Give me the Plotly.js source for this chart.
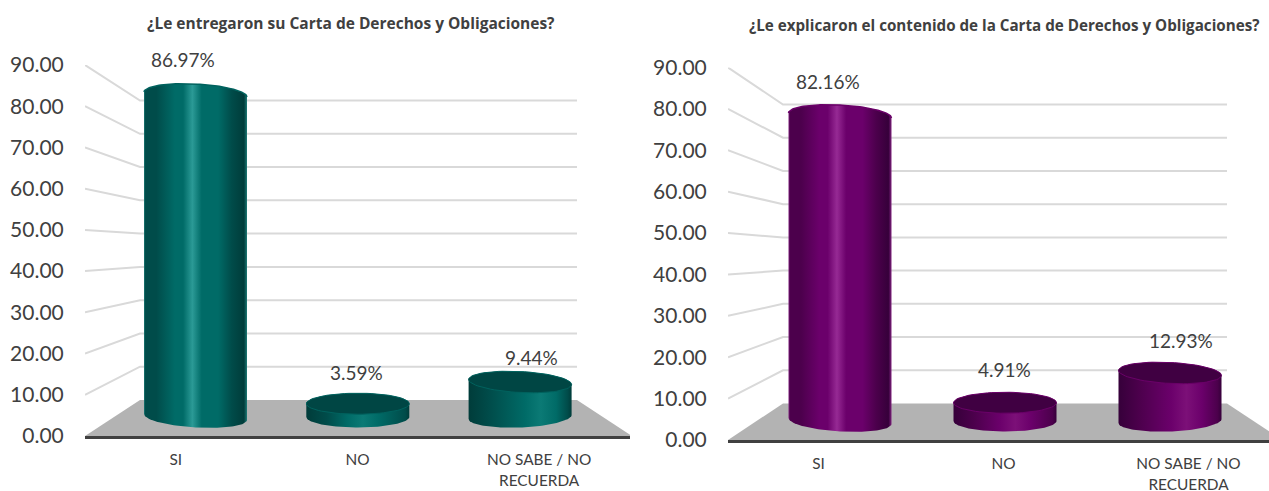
<!DOCTYPE html>
<html>
<head>
<meta charset="utf-8">
<script src="https://cdn.plot.ly/plotly-3.0.1.min.js"></script>
<style>html,body{margin:0;padding:0;background:#fff;overflow:hidden}</style>
</head>
<body>
<div id="chart" style="width:1269px;height:491px"></div>
<script>
// Survey answers, in percent
const categories = ['SI', 'NO', 'NO SABE / NO<br>RECUERDA'];
const deliveredValues = [86.97, 3.59, 9.44];
const explainedValues = [82.16, 4.91, 12.93];
const tickValues = [0, 10, 20, 30, 40, 50, 60, 70, 80, 90];
const deliveredTitle = '¿Le entregaron su Carta de Derechos y Obligaciones?';
const explainedTitle = '¿Le explicaron el contenido de la Carta de Derechos y Obligaciones?';

const W = 1269, H = 491;
const TEXT = '#404040';
const FONT = 'Lato, "Open Sans", sans-serif';
const TITLE_FONT = '"Open Sans", Lato, sans-serif';

const teal = {base:'#006b67', hi:'#2b9a96', hiShort:'#0b7a75', mid:'#004c4a', shadow:'#003c3a', lit:'#1d7a76', cap:'#004644', rim:'#00625e'};
const purple = {base:'#6b006b', hi:'#962a94', hiShort:'#7c1078', mid:'#4c004c', shadow:'#36003a', lit:'#7d1f7c', cap:'#400042', rim:'#6a0068'};

// Placement of each panel: front plane, back wall and the plane the cylinders stand on
const panels = [
  {suffix:'', over:3, values:deliveredValues, color:teal, title:deliveredTitle, titleX:145, titleY:23, titleSize:15.5,
   frontL:85, frontR:630, step:181.67, y0:436, y90:65, backL:140, backR:577, back0:400, back90:100.5,
   barC0:195.5, barStep:162.3, barW:103, bar0:417, barUnit:3.708, capB:10.5, xLabelShift:-0.5,
   tiltBottom:[3,0,-2], tiltTop:[-2.5,0,-2.5], highlight:[0.47,0.55,0.7],
   labelShift:[[-12.5,35.5],[-1,30.7],[11,25]]},
  {suffix:'2', over:4, values:explainedValues, color:purple, title:explainedTitle, titleX:747, titleY:25, titleSize:15.2,
   frontL:728, frontR:1269, step:185, y0:440, y90:67.5, backL:783, backR:1227, back0:403.5, back90:104.5,
   barC0:840, barStep:165, barW:103, bar0:421, barUnit:3.718, capB:10.5, xLabelShift:-2,
   tiltBottom:[3,0,-2], tiltTop:[-2.5,0,-2.5], highlight:[0.47,0.6,0.66],
   labelShift:[[-12,34],[-1,33.5],[11,32]]}
];

function barStops(c, tall, p) {
  if (tall) return [[0,c.lit],[0.015,c.mid],[0.12,c.mid],[0.3,c.base],[0.38,c.base],[p,c.hi],[0.56,c.base],[0.72,c.base],[0.85,c.mid],[0.97,c.shadow],[1,c.lit]];
  return [[0,c.shadow],[0.2,c.mid],[p-0.15,c.base],[p,c.hiShort],[p+0.15,c.base],[0.96,c.mid],[1,c.shadow]];
}

const traces = [], annotations = [];
const layout = {
  width:W, height:H, margin:{l:0,r:0,t:0,b:0}, paper_bgcolor:'#fff', plot_bgcolor:'rgba(0,0,0,0)',
  showlegend:false, barmode:'overlay', hovermode:false, font:{family:FONT, color:TEXT}, annotations
};

panels.forEach(P => {
  const xm = 'x' + P.suffix, ym = 'y' + P.suffix;
  const xo = 'x' + P.over, yo = 'y' + P.over;
  const dx = [P.frontL / W, P.frontR / W];
  const dy = [(H - P.y0) / H, (H - P.y90) / H];
  const frontUnit = (P.y0 - P.y90) / 90;

  layout['xaxis' + P.suffix] = {
    domain:dx, anchor:ym, range:[-0.5, (P.frontR - P.frontL) / P.step - 0.5], tickmode:'array',
    tickvals:categories.map((_,i) => i), ticktext:categories, showgrid:false, zeroline:false,
    showline:true, linecolor:TEXT, linewidth:3, ticks:'outside', ticklen:8, tickcolor:'rgba(0,0,0,0)',
    ticklabelshift:P.xLabelShift, tickfont:{size:15.4, color:TEXT, family:FONT}, fixedrange:true
  };
  layout['yaxis' + P.suffix] = {
    domain:dy, anchor:xm, range:[0,90], tickmode:'array', tickvals:tickValues, tickformat:'.2f',
    showgrid:false, zeroline:false, showline:false, ticks:'outside', ticklen:16, tickcolor:'rgba(0,0,0,0)',
    tickfont:{size:21, color:TEXT, family:FONT}, fixedrange:true
  };
  // Axes of the plane the cylinders stand on, a little behind the front plane
  layout['xaxis' + P.over] = {
    domain:dx, overlaying:xm, anchor:yo, visible:false, fixedrange:true,
    range:[(P.frontL - P.barC0) / P.barStep, (P.frontR - P.barC0) / P.barStep]
  };
  layout['yaxis' + P.over] = {
    domain:dy, overlaying:ym, anchor:xo, visible:false, fixedrange:true,
    range:[(P.bar0 - P.y0) / P.barUnit, (P.bar0 - P.y90) / P.barUnit]
  };

  // Floor and wall gridlines, expressed in the front-plane axes
  const wx = px => (px - P.frontL) / P.step - 0.5;
  const wy = px => (P.y0 - px) / frontUnit;
  const backAt = v => P.back0 + (P.back90 - P.back0) * v / 90;
  traces.push({type:'scatter', xaxis:xm, yaxis:ym, mode:'lines', fill:'toself', fillcolor:'#b3b3b3',
    line:{width:0}, hoverinfo:'skip',
    x:[-0.5, wx(P.backL), wx(P.backR), wx(P.backR) + (wx(P.backL) + 0.5), -0.5],
    y:[0, wy(P.back0), wy(P.back0), 0, 0]});
  const gx = [], gy = [];
  tickValues.filter(v => v > 0).forEach(v => {
    gx.push(-0.5, wx(P.backL), wx(P.backR), null);
    gy.push(v, wy(backAt(v)), wy(backAt(v)), null);
  });
  traces.push({type:'scatter', xaxis:xm, yaxis:ym, mode:'lines', cliponaxis:false,
    line:{color:'#d9d9d9', width:2}, hoverinfo:'skip', x:gx, y:gy});

  // Plain value bars, dressed below as shaded cylinders of the same height
  const halfW = P.barW / 2 / P.barStep;
  traces.push({type:'bar', xaxis:xo, yaxis:yo, x:P.values.map((_,i) => i), y:P.values,
    width:2 * halfW * 0.94, hoverinfo:'skip', marker:{color:P.color.base, line:{width:0}}});

  const capY = P.capB / P.barUnit;
  P.values.forEach((value, i) => {
    const tall = value > 40;
    const stops = barStops(P.color, tall, P.highlight[i]);
    const tB = P.tiltBottom[i] / P.barUnit, tT = P.tiltTop[i] / P.barUnit;

    // Silhouette of the cylinder: lower rim left to right, upper rim back again
    const sx = [], sy = [], n = 72;
    for (let k = 0; k <= n; k++) {
      const t = Math.PI + Math.PI * k / n;
      sx.push(i + halfW * Math.cos(t));
      sy.push(capY * Math.sin(t) - tB * Math.cos(t));
    }
    for (let k = 0; k <= n; k++) {
      const t = Math.PI * k / n;
      sx.push(i + halfW * Math.cos(t));
      sy.push(value + capY * Math.sin(t) + tT * Math.cos(t));
    }
    sx.push(sx[0]); sy.push(sy[0]);
    traces.push({type:'scatter', xaxis:xo, yaxis:yo, mode:'lines', x:sx, y:sy, hoverinfo:'skip', fill:'toself',
      fillgradient:{type:'horizontal', colorscale:stops}, line:{width:0}});

    // Top face for the short cylinders, rim only for the tall ones
    const cx = [], cy = [], to = tall ? Math.PI : 2 * Math.PI;
    for (let k = 0; k <= n; k++) {
      const t = to * k / n;
      cx.push(i + halfW * Math.cos(t));
      cy.push(value + capY * Math.sin(t) + tT * Math.cos(t));
    }
    traces.push(tall
      ? {type:'scatter', xaxis:xo, yaxis:yo, mode:'lines', x:cx, y:cy, hoverinfo:'skip',
         line:{color:P.color.rim, width:1.5}}
      : {type:'scatter', xaxis:xo, yaxis:yo, mode:'lines', x:cx, y:cy, hoverinfo:'skip', fill:'toself',
         fillcolor:P.color.cap, line:{color:P.color.rim, width:1}});

    annotations.push({xref:xo, yref:yo, x:i, y:value, xshift:P.labelShift[i][0], yshift:P.labelShift[i][1],
      text:value.toFixed(2) + '%', showarrow:false, font:{size:19, color:TEXT, family:FONT}});
  });

  annotations.push({xref:'paper', yref:'paper', x:P.titleX / W, y:(H - P.titleY) / H, xanchor:'left', yanchor:'middle',
    text:'<b>' + P.title + '</b>', showarrow:false, font:{size:P.titleSize, color:TEXT, family:TITLE_FONT}});
});

Plotly.newPlot('chart', traces, layout, {displayModeBar:false, staticPlot:true});
</script>
</body>
</html>
